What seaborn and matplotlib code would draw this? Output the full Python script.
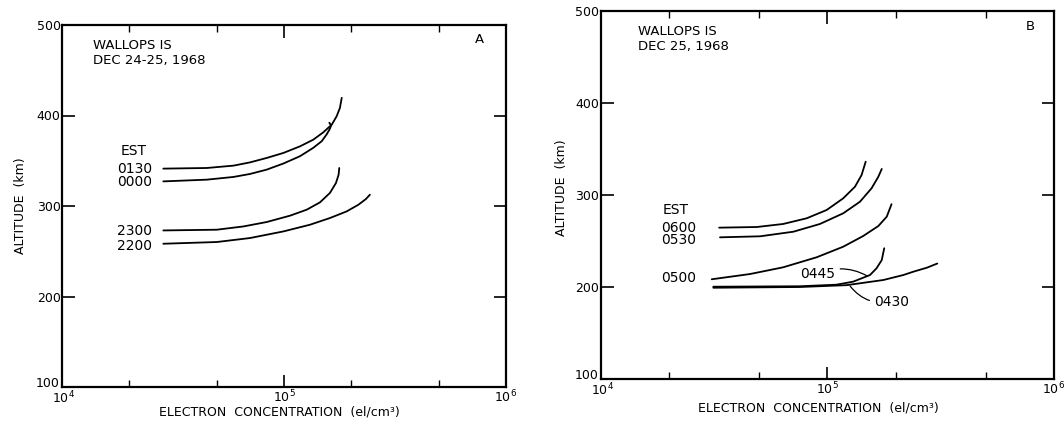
import numpy as np
import pandas as pd
import matplotlib
matplotlib.use("Agg")
import matplotlib.pyplot as plt
import matplotlib.transforms as mtransforms
import seaborn as sns
from matplotlib.ticker import LogLocator, NullFormatter, FixedLocator

# ---------------- Panel A data (Wallops Is, Dec 24-25, 1968) ----------------
a_0130_ne = [2.86e4, 4.49e4, 5.92e4, 7.03e4, 8.36e4, 9.93e4, 1.18e5, 1.355e5,
             1.503e5, 1.641e5, 1.726e5, 1.786e5, 1.82e5]
a_0130_h = [341.3, 342.0, 344.6, 348.2, 353.1, 358.6, 365.9, 373.3,
            381.4, 389.9, 399.1, 408.4, 419.5]

a_0000_ne = [2.86e4, 4.49e4, 5.92e4, 7.03e4, 8.36e4, 9.93e4, 1.18e5, 1.355e5,
             1.479e5, 1.556e5, 1.61e5, 1.63e5, 1.60e5]
a_0000_h = [327.2, 329.1, 332.1, 335.4, 340.2, 346.9, 355.0, 364.3,
            371.6, 379.1, 385.4, 389.0, 392.0]

a_2300_ne = [2.86e4, 4.98e4, 6.56e4, 8.36e4, 1.064e5, 1.265e5, 1.452e5,
             1.61e5, 1.714e5, 1.762e5, 1.774e5]
a_2300_h = [273.0, 273.8, 277.4, 282.3, 289.3, 295.9, 304.0,
            314.4, 325.4, 334.6, 342.0]

a_2200_ne = [2.86e4, 4.98e4, 7.03e4, 9.93e4, 1.309e5, 1.61e5, 1.914e5,
             2.163e5, 2.339e5, 2.438e5]
a_2200_h = [258.3, 260.2, 264.6, 271.9, 279.3, 286.7, 294.0,
            301.4, 307.7, 312.5]

a_labels = ["0130", "0000", "2300", "2200"]
a_label_h = [341, 326, 272, 256]

# ---------------- Panel B data (Wallops Is, Dec 25, 1968) ----------------
b_0600_ne = [3.33e4, 4.88e4, 6.38e4, 8.11e4, 9.93e4, 1.175e5, 1.324e5, 1.416e5, 1.476e5]
b_0600_h = [264.5, 265.2, 268.5, 274.7, 283.7, 296.4, 309.0, 321.7, 336.2]

b_0530_ne = [3.36e4, 5.05e4, 7.08e4, 9.27e4, 1.175e5, 1.393e5, 1.567e5, 1.679e5, 1.738e5]
b_0530_h = [254.0, 255.1, 260.1, 268.5, 280.1, 292.7, 307.3, 319.9, 328.3]

b_0500_ne = [3.09e4, 4.56e4, 6.38e4, 8.97e4, 1.175e5, 1.439e5, 1.679e5, 1.828e5,
             1.901e5, 1.919e5]
b_0500_h = [208.4, 214.1, 221.4, 232.3, 243.8, 255.4, 266.3, 276.4, 287.3, 290.0]

b_0445_ne = [3.14e4, 7.57e4, 1.096e5, 1.30e5, 1.542e5, 1.648e5, 1.738e5, 1.782e5]
b_0445_h = [200.3, 200.8, 202.5, 205.8, 213.0, 220.3, 229.3, 242.1]

b_0430_ne = [3.14e4, 7.57e4, 1.216e5, 1.766e5, 2.163e5, 2.393e5, 2.75e5, 3.055e5]
b_0430_h = [199.2, 200.0, 202.0, 207.6, 213.0, 216.6, 221.0, 225.5]

b_labels = ["0600", "0530", "0500"]
b_label_h = [264.5, 251, 209.5]

x_ticks_major = [1e4, 1e5, 1e6]
y_ticks = [100, 200, 300, 400, 500]


def long_frame(curves):
    rows = []
    for name, xs, ys in curves:
        for i, (xv, yv) in enumerate(zip(xs, ys)):
            rows.append({"time": name, "order": i, "ne": xv, "alt": yv})
    return pd.DataFrame(rows)


df_a = long_frame([
    ("0130", a_0130_ne, a_0130_h),
    ("0000", a_0000_ne, a_0000_h),
    ("2300", a_2300_ne, a_2300_h),
    ("2200", a_2200_ne, a_2200_h),
])
df_b = long_frame([
    ("0600", b_0600_ne, b_0600_h),
    ("0530", b_0530_ne, b_0530_h),
    ("0500", b_0500_ne, b_0500_h),
    ("0445", b_0445_ne, b_0445_h),
    ("0430", b_0430_ne, b_0430_h),
])

sns.set_style("white")
plt.rcParams["font.family"] = ["DejaVu Sans"]
plt.rcParams["mathtext.fontset"] = "dejavusans"
plt.rcParams["text.color"] = "black"
plt.rcParams["axes.labelcolor"] = "black"
plt.rcParams["xtick.color"] = "black"
plt.rcParams["ytick.color"] = "black"

fig = plt.figure(figsize=(10.64, 4.21), dpi=100)
ax_a = fig.add_axes([62 / 1064, 34 / 421, 444 / 1064, 362 / 421])
ax_b = fig.add_axes([600.7 / 1064, 42 / 421, 453.3 / 1064, 368 / 421])

for ax, df in ((ax_a, df_a), (ax_b, df_b)):
    sns.lineplot(data=df, x="ne", y="alt", units="time", estimator=None,
                 sort=False, color="black", linewidth=1.3, ax=ax, legend=False)
    ax.set_xscale("log")
    ax.set_xlim(1e4, 1e6)
    ax.set_ylim(100, 500)
    ax.xaxis.set_major_locator(FixedLocator(x_ticks_major))
    ax.xaxis.set_minor_locator(LogLocator(base=10, subs=(2.0, 5.0)))
    ax.xaxis.set_minor_formatter(NullFormatter())
    ax.yaxis.set_major_locator(FixedLocator(y_ticks))
    ax.set_xticklabels([r"$10^{4}$", r"$10^{5}$", r"$10^{6}$"])
    ax.set_yticklabels([str(v) for v in y_ticks])
    for s in ax.spines.values():
        s.set_linewidth(1.6)
        s.set_color("black")
    ax.tick_params(which="major", direction="in", length=9, width=1.2,
                   top=True, right=True, bottom=True, left=True,
                   labelsize=9, pad=2, colors="black")
    ax.tick_params(which="minor", axis="x", direction="in", length=5, width=1.0,
                   top=True, bottom=True)
    ax.tick_params(axis="y", pad=1)
    ax.tick_params(axis="x", pad=1)
    ax.set_xlabel("ELECTRON  CONCENTRATION  (el/cm\u00b3)", fontsize=9)
    ax.set_ylabel("ALTITUDE  (km)", fontsize=9)
    ax.grid(False)
    # lift the bottom "100" label slightly so it sits beside the 10^4 label
    lbl = ax.get_yticklabels()[0]
    lbl.set_transform(lbl.get_transform() +
                      mtransforms.ScaledTranslation(-1 / 100, 5 / 100, fig.dpi_scale_trans))
    xl = ax.get_xticklabels()[0]
    xl.set_transform(xl.get_transform() +
                     mtransforms.ScaledTranslation(2 / 100, -1 / 100, fig.dpi_scale_trans))

ax_a.xaxis.set_label_coords(0.49, -0.05)
ax_a.yaxis.set_label_coords(-0.078, 0.5)
ax_b.xaxis.set_label_coords(0.48, -0.06)
ax_b.yaxis.set_label_coords(-0.072, 0.52)

# Panel A texts
ax_a.text(0.07, 0.962, "WALLOPS IS\nDEC 24-25, 1968", transform=ax_a.transAxes,
          ha="left", va="top", fontsize=9.5, linespacing=1.2)
ax_a.text(0.94, 0.96, "A", transform=ax_a.transAxes, ha="center", va="center",
          fontsize=9.5)
ax_a.text(2.11e4, 360.4, "EST", ha="center", va="center", fontsize=10)
for lab, h in zip(a_labels, a_label_h):
    ax_a.text(2.55e4, h, lab, ha="right", va="center", fontsize=10)

# Panel B texts
ax_b.text(0.083, 0.962, "WALLOPS IS\nDEC 25, 1968", transform=ax_b.transAxes,
          ha="left", va="top", fontsize=9.5, linespacing=1.2)
ax_b.text(0.948, 0.957, "B", transform=ax_b.transAxes, ha="center", va="center",
          fontsize=9.5)
ax_b.text(2.14e4, 283.7, "EST", ha="center", va="center", fontsize=10)
for lab, h in zip(b_labels, b_label_h):
    ax_b.text(2.63e4, h, lab, ha="right", va="center", fontsize=10)

ax_b.annotate("0445", xy=(1.50e5, 212.0), xytext=(9.1e4, 214),
              ha="center", va="center", fontsize=10,
              arrowprops=dict(arrowstyle="-", color="black", lw=0.9,
                              connectionstyle="arc3,rad=-0.25",
                              shrinkA=1, shrinkB=0))
ax_b.annotate("0430", xy=(1.26e5, 201.0), xytext=(1.92e5, 184),
              ha="center", va="center", fontsize=10,
              arrowprops=dict(arrowstyle="-", color="black", lw=0.9,
                              connectionstyle="arc3,rad=-0.3",
                              shrinkA=1, shrinkB=0))

fig.savefig("out.png", dpi=100, facecolor="white")
